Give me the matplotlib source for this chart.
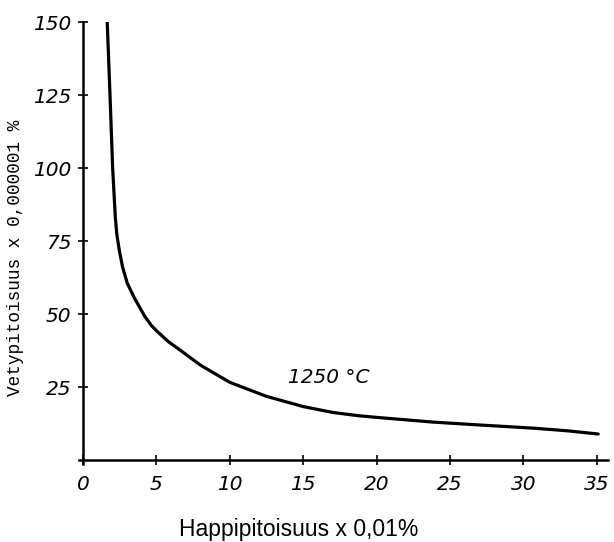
import matplotlib
matplotlib.use("Agg")
import matplotlib.pyplot as plt

# --- Data ---
happi = [1.65, 1.84, 2.02, 2.2, 2.3, 2.47, 2.7, 3.02, 3.5, 4.22, 4.67, 5.0,
         5.8, 6.6, 8.0, 10.0, 12.5, 15.0, 17.0, 18.7, 20.0, 23.8, 27.0,
         30.7, 33.0, 35.1]
vety = [150, 125, 100, 83.3, 77.5, 71.9, 66, 60.5, 55.5, 49.1, 46.0, 44.3,
        40.6, 37.7, 32.5, 26.6, 21.8, 18.3, 16.3, 15.2, 14.6, 13.0, 12.0,
        10.9, 10.0, 8.9]

x_ticks = [0, 5, 10, 15, 20, 25, 30, 35]
y_ticks = [25, 50, 75, 100, 125, 150]
curve_label = "1250 °C"
x_title = "Happipitoisuus x 0,01%"
y_title = "Vetypitoisuus x 0,000001 %"

fig = plt.figure(figsize=(6.14, 5.42), dpi=100)
ax = fig.add_axes([0.128, 0.1432, 0.863, 0.8162])

ax.plot(happi, vety, color="black", lw=2.3, solid_capstyle="round",
        solid_joinstyle="round")

ax.set_xlim(-0.3, 35.8)
ax.set_ylim(-1.5, 150)

for side in ["top", "right"]:
    ax.spines[side].set_visible(False)
ax.spines["left"].set_position(("data", 0))
ax.spines["bottom"].set_position(("data", 0))
ax.spines["left"].set_linewidth(1.8)
ax.spines["bottom"].set_linewidth(1.8)

ax.set_xticks(x_ticks)
ax.set_yticks(y_ticks)
tick_font = dict(family="DejaVu Sans", style="italic", size=14.5, weight="light")
ax.set_xticklabels([str(t) for t in x_ticks], fontdict=tick_font)
ax.set_yticklabels([str(t) for t in y_ticks], fontdict=tick_font)
ax.tick_params(axis="both", direction="inout", length=7, width=1.2, color="black")
ax.tick_params(axis="x", pad=7)
ax.tick_params(axis="y", pad=5)

ax.text(14.0, 28.1, curve_label, fontdict=tick_font, va="center", ha="left")

fig.text(0.486, 0.011, x_title, family="Liberation Sans", size=16.5,
         ha="center", va="baseline")
fig.text(0.026, 0.524, y_title, family="Liberation Mono", size=12.8,
         rotation=90, ha="center", va="center")

fig.savefig("out.png", dpi=100)
